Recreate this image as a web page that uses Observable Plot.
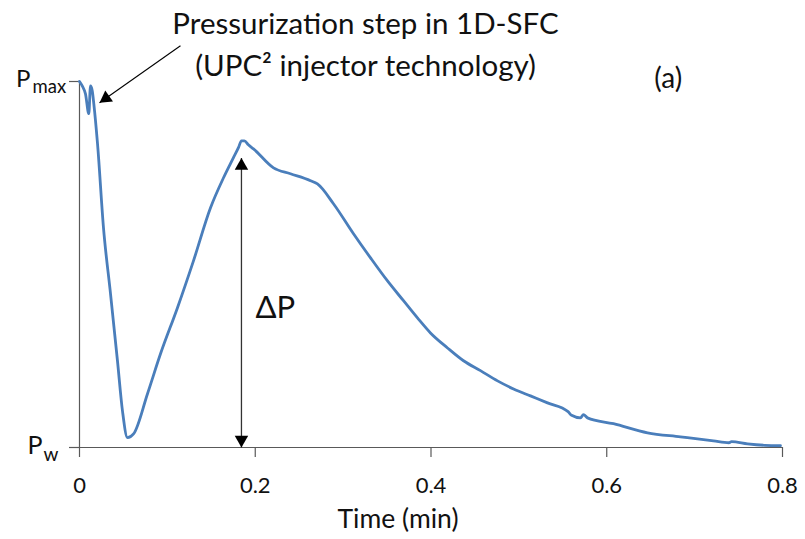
<!DOCTYPE html>
<html><head><meta charset="utf-8">
<script src="https://cdn.jsdelivr.net/npm/d3@7"></script>
<script src="https://cdn.jsdelivr.net/npm/@observablehq/plot@0.6"></script>
<style>body{margin:0;background:#fff;} #chart svg{display:block;}</style>
</head><body><div id="chart"></div>
<script>
// ---- data (time in min, pressure normalised: 0 = Pw, 1 = Pmax) ----
const time = [0, 0.0031, 0.0068, 0.0106, 0.0125, 0.0145, 0.0163, 0.0205, 0.0273, 0.0353, 0.0432, 0.0489, 0.0546,
  0.0615, 0.0774, 0.0922, 0.1115, 0.1297, 0.1491, 0.1639, 0.1752, 0.1810, 0.1843, 0.1877, 0.1922, 0.1980,
  0.2208, 0.2401, 0.2629, 0.2708, 0.2890, 0.3118, 0.3312, 0.3505, 0.3687, 0.3846, 0.3994, 0.4188, 0.4370,
  0.4563, 0.4757, 0.4939, 0.5132, 0.5326, 0.5560, 0.5600, 0.5701, 0.5735, 0.5781, 0.6077, 0.6464, 0.6839, 0.7215,
  0.7390, 0.7420, 0.7602, 0.7800, 0.7977];
const pressure = [1.0, 0.988, 0.966, 0.912, 0.988, 0.975, 0.939, 0.830, 0.600, 0.420, 0.237, 0.100, 0.027,
  0.037, 0.147, 0.256, 0.382, 0.510, 0.655, 0.737, 0.792, 0.820, 0.838, 0.838, 0.827, 0.816,
  0.764, 0.748, 0.729, 0.720, 0.666, 0.584, 0.518, 0.455, 0.401, 0.354, 0.313, 0.272, 0.237,
  0.210, 0.182, 0.160, 0.141, 0.122, 0.098, 0.088, 0.081, 0.090, 0.081, 0.065, 0.040, 0.029, 0.018,
  0.013, 0.016, 0.010, 0.006, 0.005];
const xTicks = [0, 0.2, 0.4, 0.6, 0.8];
const xTickLabels = ["0", "0.2", "0.4", "0.6", "0.8"];
const yTicks = [0, 1];
const yTickBase = ["P", "P"];
const yTickSub = ["w", "max"];
const xLabel = "Time (min)";
const noteText = "Pressurization step in 1D-SFC\n(UPC² injector technology)";
const panelLabel = "(a)";
const deltaLabel = "ΔP";
// annotation anchors, in data units
const noteAt = [0.3255, 1.0156];
const noteArrowFrom = [0.1149, 1.0975];
const noteArrowTo = [0.0228, 0.942];
const panelAt = [0.670, 0.983];
const deltaAt = [0.2003, 0.354];
const deltaArrowX = 0.1843;
const deltaArrowTop = 0.791;

const series = time.map((t, i) => ({t, p: pressure[i]}));
const font = "Lato, 'Open Sans', sans-serif";
const ink = "#111";
const axisInk = "#595959";

const chart = Plot.plot({
  width: 805, height: 539,
  marginLeft: 79, marginRight: 23, marginTop: 81, marginBottom: 92,
  style: {fontFamily: font, fontSize: "21px", color: ink, background: "#fff", overflow: "visible"},
  x: {type: "linear", domain: [0, 0.8]},
  y: {type: "linear", domain: [0, 1]},
  marks: [
    // axes
    Plot.ruleX([0], {y1: 0, y2: 1, stroke: axisInk, strokeWidth: 1.2}),
    Plot.ruleY([0], {stroke: axisInk, strokeWidth: 1.2}),
    Plot.axisX(xTicks, {tickSize: 10, tickPadding: 20, stroke: axisInk, strokeWidth: 1.2,
      tickFormat: (d, i) => xTickLabels[i], fontSize: 22, fill: ink, label: null}),
    Plot.axisY(yTicks, {tickSize: 10, stroke: axisInk, strokeWidth: 1.2, tickFormat: () => "", label: null}),
    // y tick labels with subscripts
    Plot.text([yTicks[1]], {x: 0, y: d => d, text: () => yTickBase[1], textAnchor: "end", lineAnchor: "bottom", dx: -49, dy: 5, fontSize: 24, fill: ink}),
    Plot.text([yTicks[1]], {x: 0, y: d => d, text: () => yTickSub[1], textAnchor: "start", lineAnchor: "bottom", dx: -47, dy: 11, fontSize: 18.5, fill: ink}),
    Plot.text([yTicks[0]], {x: 0, y: d => d, text: () => yTickBase[0], textAnchor: "end", lineAnchor: "bottom", dx: -37, dy: 6, fontSize: 25, fill: ink}),
    Plot.text([yTicks[0]], {x: 0, y: d => d, text: () => yTickSub[0], textAnchor: "start", lineAnchor: "bottom", dx: -36, dy: 13, fontSize: 19, fill: ink}),
    // data line
    Plot.line(series, {x: "t", y: "p", stroke: "#4a7ebb", strokeWidth: 2.8, strokeLinejoin: "round", curve: "monotone-x"}),
    // delta P double arrow
    Plot.link([0], {x1: deltaArrowX, x2: deltaArrowX, y1: 0, y2: deltaArrowTop, stroke: "#333", strokeWidth: 1.3}),
    Plot.dot([deltaArrowTop], {x: deltaArrowX, y: d => d, symbol: "triangle", r: 5, fill: "#000", stroke: "none", dy: 7.8, rotate: 0}),
    Plot.dot([0], {x: deltaArrowX, y: d => d, symbol: "triangle", r: 5, fill: "#000", stroke: "none", dy: -7.8, rotate: 180}),
    Plot.text([deltaLabel], {x: deltaAt[0], y: deltaAt[1], text: d => d, textAnchor: "start", lineAnchor: "bottom", fontSize: 31, fill: ink}),
    // note + arrow
    Plot.link([0], {x1: noteArrowFrom[0], y1: noteArrowFrom[1], x2: noteArrowTo[0], y2: noteArrowTo[1], stroke: "#000", strokeWidth: 1.1}),
    Plot.dot([0], {x: noteArrowTo[0], y: noteArrowTo[1], symbol: "triangle", r: 5, fill: "#000", stroke: "none", dx: 6.4, dy: -4.5, rotate: 235}),
    Plot.text([noteText], {x: noteAt[0], y: noteAt[1], text: d => d, textAnchor: "middle", lineAnchor: "bottom", lineHeight: 1.4, fontSize: 29.5, fill: ink}),
    Plot.text([panelLabel], {x: panelAt[0], y: panelAt[1], text: d => d, textAnchor: "middle", lineAnchor: "bottom", fontSize: 28, fill: ink}),
    // x axis title
    Plot.text([xLabel], {frameAnchor: "bottom", text: d => d, dx: -33, dy: 80, lineAnchor: "bottom", fontSize: 26.5, fill: ink})
  ]
});
document.getElementById("chart").appendChild(chart);
</script>
</body></html>
